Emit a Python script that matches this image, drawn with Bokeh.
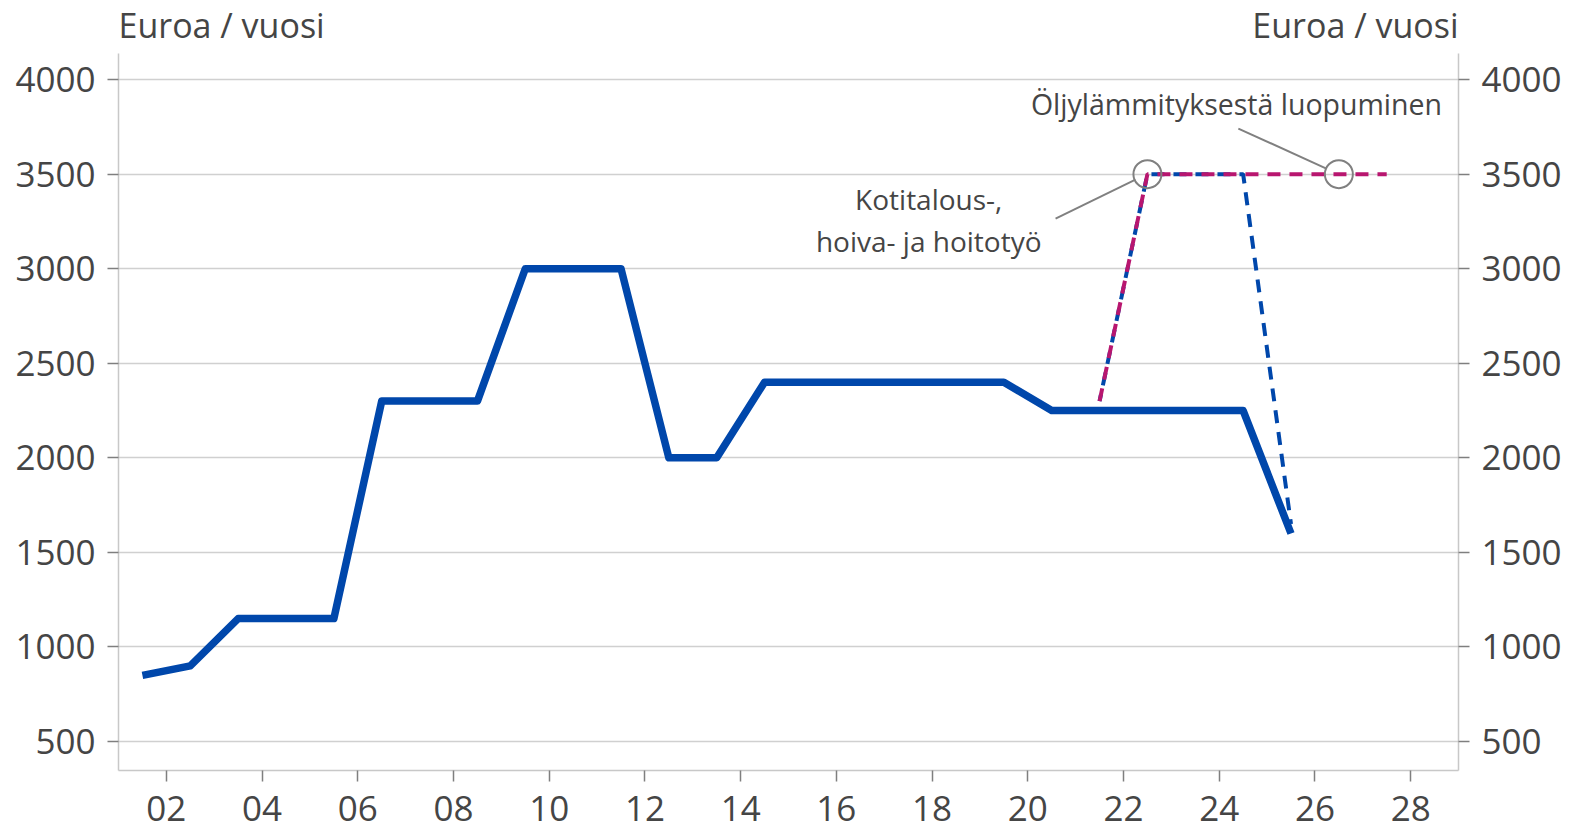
from bokeh.plotting import figure
from bokeh.models import Range1d, LinearAxis, FixedTicker, Grid
from bokeh.core.properties import value
from bokeh.embed import file_html
from bokeh.resources import INLINE

# ---- data ----
years = [2001.5, 2002.5, 2003.5, 2005.5, 2006.5, 2008.5, 2009.5, 2011.5,
         2012.5, 2013.5, 2014.5, 2019.5, 2020.5, 2024.5, 2025.5]
amounts = [850, 900, 1150, 1150, 2300, 2300, 3000, 3000,
           2000, 2000, 2400, 2400, 2250, 2250, 1600]

care_years = [2021.5, 2022.5, 2024.5, 2025.5]
care_amounts = [2300, 3500, 3500, 1650]

oil_years = [2021.5, 2022.5, 2027.5]
oil_amounts = [2300, 3500, 3500]

marker_years = [2022.5, 2026.5]
marker_amounts = [3500, 3500]

x_ticks = list(range(2002, 2030, 2))
x_tick_labels = ["02", "04", "06", "08", "10", "12", "14", "16", "18", "20", "22", "24", "26", "28"]
y_ticks = [500, 1000, 1500, 2000, 2500, 3000, 3500, 4000]

unit_label = "Euroa / vuosi"
note_care = ["Kotitalous-,", "hoiva- ja hoitotyö"]
note_oil = "Öljylämmityksestä luopuminen"

# leader lines for annotations (data coordinates)
leader_x0 = [2020.58, 2024.40]
leader_y0 = [3265, 3741]
leader_x1 = [2022.25, 2026.24]
leader_y1 = [3471, 3529]

# ---- style ----
FONT = "Open Sans"
BLUE = "#0047AB"
MAGENTA = "#B8166F"
GRID = "#D0D0D0"
TEXT = "#454545"

X0, X1 = 2001.0, 2029.0
Y0, YAX, YTOP = 347, 4137, 4418

W, H = 1575, 829
p = figure(width=W, height=H, output_backend="svg", toolbar_location=None,
           x_range=Range1d(X0, X1), y_range=Range1d(Y0, YTOP),
           min_border_left=118, min_border_right=W - 1458, min_border_top=0,
           min_border_bottom=H - 770, y_axis_location=None, x_axis_location=None)
p.outline_line_color = None
p.background_fill_color = "white"
p.border_fill_color = "white"
p.xgrid.visible = False
p.ygrid.visible = False

def style_axis(ax, ticks):
    ax.ticker = FixedTicker(ticks=ticks)
    ax.axis_line_color = "#C8C8C8"
    ax.axis_line_width = 1.5
    ax.major_tick_line_color = "#7F7F7F"
    ax.major_tick_line_width = 1.5
    ax.major_tick_out = 11
    ax.major_tick_in = 0
    ax.minor_tick_line_color = None
    ax.major_label_text_font = FONT
    ax.major_label_text_font_size = "35px"
    ax.major_label_text_color = TEXT
    ax.major_label_standoff = 12

left = LinearAxis(bounds=(Y0, YAX))
style_axis(left, y_ticks)
p.add_layout(left, "left")
right = LinearAxis(bounds=(Y0, YAX))
style_axis(right, y_ticks)
p.add_layout(right, "right")
bottom = LinearAxis()
style_axis(bottom, x_ticks)
bottom.major_label_overrides = {t: lab for t, lab in zip(x_ticks, x_tick_labels)}
bottom.major_label_standoff = 14
p.add_layout(bottom, "below")

g = Grid(dimension=1, ticker=FixedTicker(ticks=y_ticks))
g.grid_line_color = GRID
g.grid_line_width = 1.5
p.add_layout(g)

# ---- series ----
p.line(years, amounts, line_color=BLUE, line_width=7.5, line_join="round")
p.line(care_years, care_amounts, line_color=BLUE, line_width=4,
       line_dash="13 9", line_dash_offset=6)
p.line(oil_years, oil_amounts, line_color=MAGENTA, line_width=4,
       line_dash="13 9")

# annotation markers and leaders
p.scatter(marker_years, marker_amounts, marker="circle", size=28,
          fill_color=None, line_color="#808080", line_width=2)
p.segment(leader_x0, leader_y0, leader_x1, leader_y1,
          line_color="#808080", line_width=2)

# annotation texts
p.text(x=[2017.93, 2017.93], y=[3366, 3149], text=note_care,
       text_font=value(FONT), text_font_size="28px", text_color=TEXT,
       text_align="center", text_baseline="middle")
p.text(x=[2024.36], y=[3873], text=[note_oil],
       text_font=value(FONT), text_font_size="28.5px", text_color=TEXT,
       text_align="center", text_baseline="middle")

# unit labels above the axes
p.text(x=[X0, X1], y=[4290, 4290], text=[unit_label, unit_label],
       text_font=value(FONT), text_font_size="34px", text_color=TEXT,
       text_align=["left", "right"], text_baseline="middle")

open("out.html", "w").write(file_html(p, INLINE))
